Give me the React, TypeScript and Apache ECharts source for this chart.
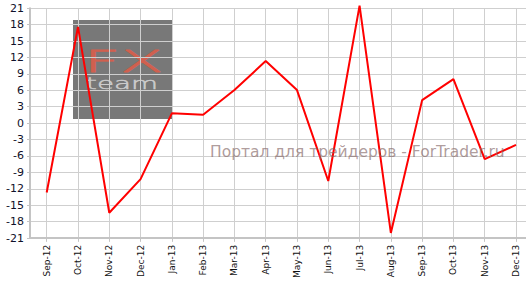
import React, { useEffect, useRef } from 'react';
import * as echarts from 'echarts';

const months = ['Sep-12', 'Oct-12', 'Nov-12', 'Dec-12', 'Jan-13', 'Feb-13', 'Mar-13', 'Apr-13', 'May-13', 'Jun-13', 'Jul-13', 'Aug-13', 'Sep-13', 'Oct-13', 'Nov-13', 'Dec-13'];
const values = [-12.7, 17.6, -16.4, -10.25, 1.78, 1.52, 6.04, 11.35, 6.04, -10.6, 21.5, -20.1, 4.2, 8.05, -6.6, -4.0];
const yMin = -21;
const yMax = 21;
const yStep = 3;
const watermark = 'Портал для трейдеров - ForTrader.ru';

export default function App() {
  const ref = useRef<HTMLDivElement>(null);
  useEffect(() => {
    if (!ref.current) return;
    const chart = echarts.init(ref.current, undefined, { renderer: 'svg' });
    const axisColor = '#c4c4c4';
    const gridColor = '#cfcfcf';
    chart.setOption({
      animation: false,
      backgroundColor: '#ffffff',
      grid: [
        { left: 30, right: 0, top: 8.3, bottom: 43, containLabel: false },
        { left: 46.7, right: 10, top: 8.3, bottom: 43, containLabel: false },
      ],
      xAxis: [
        {
          gridIndex: 0,
          type: 'value',
          min: 0,
          max: 1,
          axisLine: { show: true, onZero: false, lineStyle: { color: axisColor, width: 2 } },
          axisTick: { show: false },
          axisLabel: { show: false },
          splitLine: { show: false },
        },
        {
          gridIndex: 1,
          type: 'category',
          data: months,
          boundaryGap: false,
          axisLine: { show: false, onZero: false },
          axisTick: { show: true, length: 4, interval: 0, lineStyle: { color: axisColor, width: 1 } },
          splitLine: { show: true, interval: 0, lineStyle: { color: gridColor, width: 1 } },
          axisLabel: {
            interval: 0,
            rotate: 90,
            margin: 7,
            fontFamily: 'DejaVu Sans',
            fontSize: 9,
            color: '#111111',
          },
        },
      ],
      yAxis: [
        {
          gridIndex: 0,
          type: 'value',
          min: yMin,
          max: yMax,
          interval: yStep,
          axisLine: { show: true, onZero: false, lineStyle: { color: axisColor, width: 2 } },
          axisTick: { show: true, length: 3, lineStyle: { color: axisColor, width: 1 } },
          splitLine: { show: true, lineStyle: { color: gridColor, width: 1 } },
          axisLabel: {
            margin: 6,
            fontFamily: 'DejaVu Sans',
            fontSize: 11,
            color: '#10102a',
          },
        },
        {
          gridIndex: 1,
          type: 'value',
          min: yMin,
          max: yMax,
          interval: yStep,
          show: false,
        },
      ],
      graphic: [
        {
          type: 'group',
          z: -1,
          children: [
            { type: 'rect', shape: { x: 73, y: 20, width: 100, height: 99 }, style: { fill: '#787878' }, z: -1 },
            {
              type: 'text', x: 84, y: 61.5, scaleX: 2.1, z: -1,
              style: { text: 'FX', fontFamily: 'DejaVu Sans', fontWeight: 200, fontSize: 30, fill: '#d0604f', stroke: '#d0604f', lineWidth: 0.8, textVerticalAlign: 'middle' },
            },
            {
              type: 'text', x: 86, y: 84, scaleX: 1.85, z: -1,
              style: { text: 'team', fontFamily: 'DejaVu Sans', fontWeight: 200, fontSize: 15, fill: '#cccccc', stroke: '#cccccc', lineWidth: 0.4, textVerticalAlign: 'middle' },
            },
          ],
        },
        {
          type: 'text', x: 210, y: 151.5, z: 100,
          style: { text: watermark, fontFamily: 'DejaVu Sans', fontSize: 15.5, fill: 'rgba(130,100,100,0.65)', textVerticalAlign: 'middle' },
        },
      ],
      series: [
        {
          type: 'line',
          xAxisIndex: 1,
          yAxisIndex: 1,
          data: values,
          symbol: 'none',
          clip: false,
          lineStyle: { color: '#ff0000', width: 2 },
        },
      ],
    });
    return () => chart.dispose();
  }, []);
  return <div ref={ref} style={{ position: 'fixed', left: 0, top: 0, width: 526, height: 281 }} />;
}
